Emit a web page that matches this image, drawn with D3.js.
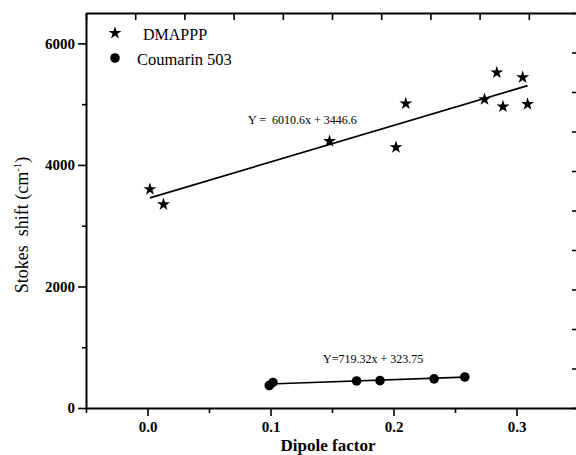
<!DOCTYPE html>
<html>
<head>
<meta charset="utf-8">
<script src="https://cdn.jsdelivr.net/npm/d3@7"></script>
<style>
  body { margin: 0; background: #fff; }
  svg { display: block; }
  text { font-family: "Liberation Serif", "DejaVu Serif", serif; fill: #000; }
</style>
</head>
<body>
<svg id="chart" width="576" height="455"></svg>
<script>
// values
const dmapppX = [0.002, 0.013, 0.148, 0.202, 0.210, 0.274, 0.284, 0.289, 0.305, 0.309];
const dmapppY = [3600, 3350, 4390, 4290, 5010, 5080, 5520, 4960, 5440, 5000];
const coumX = [0.099, 0.102, 0.170, 0.189, 0.233, 0.258];
const coumY = [370, 420, 445, 450, 480, 510];
const fitDmappp = [6010.6, 3446.6];   // slope, intercept
const fitCoum = [719.32, 323.75];
const xMajor = [0.0, 0.1, 0.2, 0.3];
const xMinor = [-0.05, 0.05, 0.15, 0.25];
const yMajor = [0, 2000, 4000, 6000];
const yMinor = [1000, 3000, 5000];
const legendNames = ["DMAPPP", "Coumarin 503"];

const svg = d3.select("#chart");
const mLeft = 86, mRight = 578, mTop = 13, mBottom = 408;

const x = d3.scaleLinear().domain([-0.05, 0.35]).range([mLeft, mRight]);
const y = d3.scaleLinear().domain([0, 6500]).range([mBottom, mTop]);
// frame ticks on top/right use 10 plain divisions
const fx = d3.scaleLinear().domain([0, 10]).range([mLeft, mRight]);
const fy = d3.scaleLinear().domain([0, 10]).range([mBottom, mTop]);

function styleAxis(g) {
  g.attr("font-family", null);
  g.select(".domain").attr("stroke-width", 2);
  g.selectAll(".tick line").attr("stroke-width", 1.6);
  g.selectAll("text").attr("font-size", 15).attr("font-weight", "bold");
}

// left axis
svg.append("g").attr("transform", `translate(${mLeft},0)`)
  .call(d3.axisLeft(y).tickValues(yMajor).tickSize(8).tickSizeOuter(0).tickPadding(3).tickFormat(d3.format("d")))
  .call(styleAxis);
svg.append("g").attr("transform", `translate(${mLeft},0)`)
  .call(d3.axisLeft(y).tickValues(yMinor).tickSize(4).tickFormat(""))
  .call(g => g.select(".domain").remove())
  .call(g => g.selectAll(".tick line").attr("stroke-width", 1.6));

// bottom axis
svg.append("g").attr("transform", `translate(0,${mBottom})`)
  .call(d3.axisBottom(x).tickValues(xMajor).tickSize(8).tickSizeOuter(0).tickPadding(5).tickFormat(d3.format(".1f")))
  .call(styleAxis);
svg.append("g").attr("transform", `translate(0,${mBottom})`)
  .call(d3.axisBottom(x).tickValues(xMinor).tickSize(5).tickFormat(""))
  .call(g => g.select(".domain").remove())
  .call(g => g.selectAll(".tick line").attr("stroke-width", 1.6));

// top frame axis, inward ticks
svg.append("g").attr("transform", `translate(0,${mTop})`)
  .call(d3.axisBottom(fx).ticks(10).tickSize(7).tickSizeOuter(0).tickFormat(""))
  .call(styleAxis);
// right frame axis, inward ticks
svg.append("g").attr("transform", `translate(${mRight},0)`)
  .call(d3.axisLeft(fy).ticks(10).tickSize(6).tickSizeOuter(0).tickFormat(""))
  .call(styleAxis);

// fit lines
function fitLine(xs, fit) {
  const x0 = d3.min(xs), x1 = d3.max(xs);
  svg.append("line")
    .attr("x1", x(x0)).attr("y1", y(fit[0] * x0 + fit[1]))
    .attr("x2", x(x1)).attr("y2", y(fit[0] * x1 + fit[1]))
    .attr("stroke", "#000").attr("stroke-width", 1.7);
}
fitLine(dmapppX, fitDmappp);
fitLine(coumX, fitCoum);

const star = d3.symbol().type(d3.symbolStar).size(52);

svg.append("g").selectAll("path")
  .data(d3.zip(dmapppX, dmapppY))
  .join("path")
  .attr("d", star)
  .attr("transform", d => `translate(${x(d[0])},${y(d[1])})`)
  .attr("fill", "#000");

svg.append("g").selectAll("circle")
  .data(d3.zip(coumX, coumY))
  .join("circle")
  .attr("cx", d => x(d[0])).attr("cy", d => y(d[1]))
  .attr("r", 4.8).attr("fill", "#000");

// equations
svg.append("text").attr("x", 248).attr("y", 124).attr("font-size", 12)
  .attr("xml:space", "preserve")
  .text(`Y =  ${fitDmappp[0]}x + ${fitDmappp[1]}`);
svg.append("text").attr("x", 323).attr("y", 363).attr("font-size", 12)
  .text(`Y=${fitCoum[0]}x + ${fitCoum[1]}`);

// legend
svg.append("path").attr("d", star).attr("transform", "translate(115,33)").attr("fill", "#000");
svg.append("text").attr("x", 143).attr("y", 40).attr("font-size", 16).text(legendNames[0]);
svg.append("circle").attr("cx", 115).attr("cy", 58).attr("r", 4.8).attr("fill", "#000");
svg.append("text").attr("x", 137).attr("y", 65).attr("font-size", 16.5).text(legendNames[1]);

// axis titles
svg.append("text")
  .attr("x", 328).attr("y", 451)
  .attr("text-anchor", "middle").attr("font-size", 17).attr("font-weight", "bold")
  .text("Dipole factor");

const yt = svg.append("text")
  .attr("transform", "translate(28,225) rotate(-90)")
  .attr("text-anchor", "middle").attr("font-size", 18)
  .attr("xml:space", "preserve");
yt.append("tspan").text("Stokes  shift (cm");
yt.append("tspan").attr("font-size", 11).attr("dy", -7).text("-1");
yt.append("tspan").attr("dy", 7).text(")");
</script>
</body>
</html>
